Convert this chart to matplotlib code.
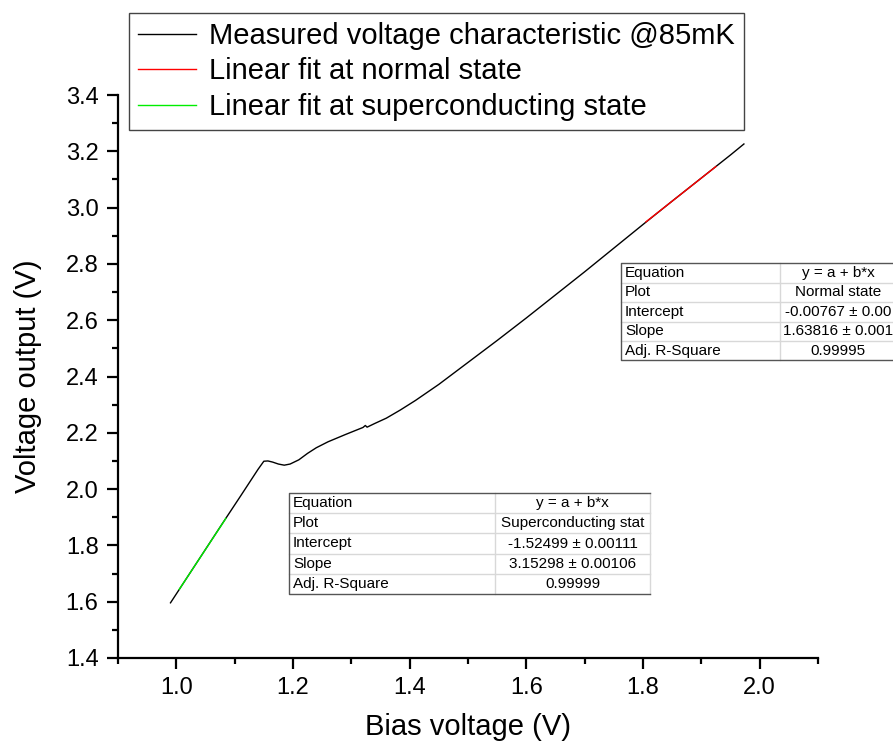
import matplotlib
matplotlib.use("Agg")
import matplotlib.pyplot as plt
from matplotlib.patches import Rectangle
from matplotlib.lines import Line2D
from matplotlib.ticker import MultipleLocator
import numpy as np

plt.rcParams['font.family'] = ['Liberation Sans', 'DejaVu Sans']

# Measured I-V style characteristic at 85 mK
bias_v = [0.990, 1.020, 1.050, 1.080, 1.110, 1.140, 1.150, 1.157, 1.165, 1.175,
          1.185, 1.195, 1.210, 1.225, 1.240, 1.260, 1.290, 1.320, 1.324, 1.327,
          1.340, 1.360, 1.384, 1.410, 1.450, 1.500, 1.550, 1.600, 1.650, 1.700,
          1.750, 1.800, 1.850, 1.900, 1.950, 1.973]
out_v = [1.596, 1.691, 1.786, 1.881, 1.975, 2.070, 2.099, 2.100, 2.096, 2.089,
         2.085, 2.089, 2.104, 2.127, 2.147, 2.168, 2.194, 2.219, 2.226, 2.220,
         2.233, 2.252, 2.281, 2.315, 2.372, 2.450, 2.528, 2.608, 2.690, 2.772,
         2.856, 2.940, 3.023, 3.105, 3.187, 3.226]

# Linear fit results
sc_intercept, sc_slope = -1.52499, 3.15298
sc_range = [1.005, 1.085]
n_intercept, n_slope = -0.00767, 1.63816
n_range = [1.805, 1.925]

x_ticks = [1.0, 1.2, 1.4, 1.6, 1.8, 2.0]
y_ticks = [1.4, 1.6, 1.8, 2.0, 2.2, 2.4, 2.6, 2.8, 3.0, 3.2, 3.4]

W, H = 893, 746
fig = plt.figure(figsize=(W / 100, H / 100), dpi=100)
ax = fig.add_axes([118 / W, 1 - 658 / H, (818 - 118) / W, (658 - 95) / H])

ax.plot(bias_v, out_v, color='black', lw=1.0,
        label='Measured voltage characteristic @85mK')
xn = np.array(n_range)
ax.plot(xn, n_intercept + n_slope * xn, color='#ff0000', lw=1.0,
        label='Linear fit at normal state')
xs = np.array(sc_range)
ax.plot(xs, sc_intercept + sc_slope * xs, color='#00ee00', lw=1.0,
        label='Linear fit at superconducting state')

ax.set_xlim(0.9, 2.1)
ax.set_ylim(1.4, 3.4)
ax.xaxis.set_minor_locator(MultipleLocator(0.1))
ax.yaxis.set_minor_locator(MultipleLocator(0.1))
ax.set_xticks(x_ticks)
ax.set_xticklabels([f'{v:.1f}' for v in x_ticks])
ax.set_yticks(y_ticks)
ax.set_yticklabels([f'{v:.1f}' for v in y_ticks])
for s in ['top', 'right']:
    ax.spines[s].set_visible(False)
for s in ['left', 'bottom']:
    ax.spines[s].set_linewidth(1.6)
ax.tick_params(which='major', direction='out', length=8, width=1.6,
               labelsize=17, pad=6)
ax.tick_params(which='minor', direction='out', length=4, width=1.6)
ax.set_xlabel('Bias voltage (V)', fontsize=21, labelpad=10)
ax.set_ylabel('Voltage output (V)', fontsize=21, labelpad=17)

leg = ax.legend(loc='upper left', bbox_to_anchor=(129 / W, 1 - 13 / H),
                bbox_transform=fig.transFigure, fontsize=21,
                frameon=True, fancybox=False, edgecolor='#444444',
                framealpha=1, handlelength=2.0, handletextpad=0.45,
                borderpad=0.3, labelspacing=0.26, borderaxespad=0)
leg.get_frame().set_linewidth(1.0)


def draw_table(x0, y0, col_w, row_h, rows, fs=11):
    """Draw an Origin-style fit-result table in figure pixel coordinates."""
    tw = sum(col_w)
    th = row_h * len(rows)
    tf = fig.transFigure

    def fx(px):
        return px / W

    def fy(py):
        return 1 - py / H

    fig.add_artist(Rectangle((fx(x0), fy(y0 + th)), tw / W, th / H,
                             transform=tf, facecolor='white',
                             edgecolor='none', zorder=5))
    for i in range(1, len(rows)):
        yy = fy(y0 + i * row_h)
        fig.add_artist(Line2D([fx(x0), fx(x0 + tw)], [yy, yy], transform=tf,
                              color='#d8d8d8', lw=1.0, zorder=6))
    xd = fx(x0 + col_w[0])
    fig.add_artist(Line2D([xd, xd], [fy(y0), fy(y0 + th)], transform=tf,
                          color='#d8d8d8', lw=1.0, zorder=6))
    fig.add_artist(Line2D([fx(x0 + tw)] * 2, [fy(y0), fy(y0 + th)],
                          transform=tf, color='#d8d8d8', lw=1.0, zorder=6))
    fig.add_artist(Line2D([fx(x0 + tw), fx(x0), fx(x0), fx(x0 + tw)],
                          [fy(y0), fy(y0), fy(y0 + th), fy(y0 + th)],
                          transform=tf, color='#555555', lw=1.0, zorder=7))
    for i, (name, val) in enumerate(rows):
        yc = fy(y0 + (i + 0.5) * row_h)
        fig.text(fx(x0 + 4), yc, name, fontsize=fs, va='center', ha='left',
                 zorder=8)
        fig.text(fx(x0 + col_w[0] + col_w[1] / 2), yc, val, fontsize=fs,
                 va='center', ha='center', zorder=8)


draw_table(621, 263, [159, 116], 19.5, [
    ('Equation', 'y = a + b*x'),
    ('Plot', 'Normal state'),
    ('Intercept', '-0.00767 \u00b1 0.00'),
    ('Slope', '1.63816 \u00b1 0.001'),
    ('Adj. R-Square', '0.99995'),
])
draw_table(289, 493, [206, 155], 20.2, [
    ('Equation', 'y = a + b*x'),
    ('Plot', 'Superconducting stat'),
    ('Intercept', '-1.52499 \u00b1 0.00111'),
    ('Slope', '3.15298 \u00b1 0.00106'),
    ('Adj. R-Square', '0.99999'),
])

fig.savefig('out.png', dpi=100)
